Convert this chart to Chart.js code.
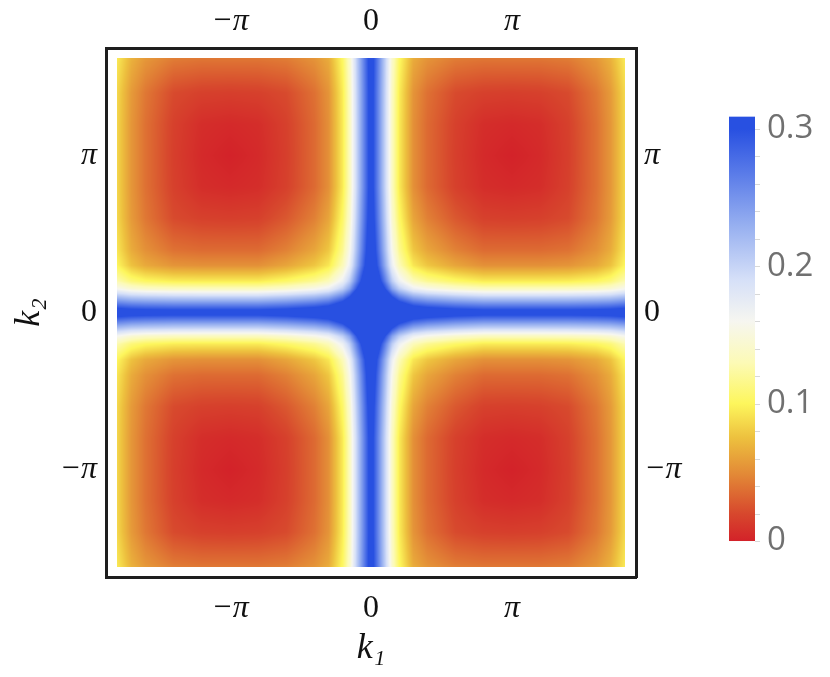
<!DOCTYPE html>
<html lang="en">
<head>
  <meta charset="UTF-8">
  <title>Density plot k1 k2</title>
  <script src="https://cdn.jsdelivr.net/npm/chart.js"></script>
  <style>
    body { margin: 0; background: #fff; }
    #plot { display: block; }
  </style>
</head>
<body>
  <canvas id="plot" width="830" height="677"></canvas>

  <script>
    // axis ticks (k in units of pi)
    const tickValues = [-1, 0, 1];
    const tickLabels = ['−π', '0', 'π'];

    // plotted domain, in units of pi
    const k1Extent = [-1.805, 1.805];
    const k2Extent = [-1.62, 1.62];

    // |k| sample nodes (units of pi), same for k1 and k2; the plot is mirror symmetric
    const kNodes = [0, 0.05, 0.1, 0.15, 0.2, 0.3, 0.4, 0.6, 0.8, 1.0, 1.2, 1.4, 1.6, 1.7, 1.8];

    // values: rows = |k2| nodes, columns = |k1| nodes
    const valueGrid = [
      [.570, .517, .466, .412, .381, .350, .339, .327, .320, .320, .320, .320, .322, .325, .331],
      [.517, .463, .411, .355, .323, .291, .279, .267, .260, .260, .260, .260, .263, .266, .274],
      [.466, .411, .357, .300, .266, .233, .220, .208, .200, .200, .200, .201, .204, .207, .217],
      [.412, .355, .300, .241, .206, .170, .157, .143, .135, .135, .135, .136, .140, .146, .160],
      [.381, .323, .266, .206, .169, .132, .118, .104, .095, .095, .095, .096, .102, .110, .128],
      [.350, .291, .233, .170, .132, .093, .078, .062, .052, .052, .052, .054, .064, .076, .100],
      [.339, .279, .220, .157, .118, .078, .062, .045, .035, .035, .035, .038, .052, .065, .092],
      [.327, .267, .208, .143, .104, .062, .045, .027, .016, .015, .016, .021, .041, .057, .086],
      [.320, .260, .200, .135, .095, .052, .035, .016, .006, .004, .006, .016, .038, .055, .085],
      [.320, .260, .200, .135, .095, .052, .035, .015, .004, .000, .004, .015, .038, .055, .085],
      [.320, .260, .200, .135, .095, .052, .035, .016, .006, .004, .006, .016, .038, .055, .085],
      [.320, .260, .201, .136, .096, .054, .038, .021, .016, .015, .016, .021, .041, .057, .086],
      [.322, .263, .204, .140, .102, .064, .052, .041, .038, .038, .038, .041, .054, .067, .093],
      [.325, .266, .207, .146, .110, .076, .065, .057, .055, .055, .055, .057, .067, .078, .101],
      [.331, .274, .217, .160, .128, .100, .092, .086, .085, .085, .085, .086, .093, .101, .120]
    ];

    // colour bar
    const barTicks = [0, 0.1, 0.2, 0.3];
    const barTickLabels = ['0', '0.1', '0.2', '0.3'];
    const barMax = 0.309;

    // colour map (value -> rgb)
    const colorStops = [
      [0.000, [211, 34, 41]],
      [0.020, [215, 72, 45]],
      [0.050, [227, 140, 55]],
      [0.075, [237, 192, 62]],
      [0.100, [253, 246, 92]],
      [0.130, [252, 250, 182]],
      [0.160, [246, 246, 240]],
      [0.190, [214, 224, 248]],
      [0.230, [150, 175, 240]],
      [0.270, [86, 120, 232]],
      [0.300, [40, 80, 225]]
    ];

    function colorAt(v) {
      if (v <= colorStops[0][0]) return colorStops[0][1];
      for (let i = 1; i < colorStops.length; i++) {
        if (v <= colorStops[i][0]) {
          const [v0, c0] = colorStops[i - 1], [v1, c1] = colorStops[i];
          const t = (v - v0) / (v1 - v0);
          return [0, 1, 2].map(n => c0[n] + (c1[n] - c0[n]) * t);
        }
      }
      return colorStops[colorStops.length - 1][1];
    }

    function nodeIndex(a) {
      let i = 0;
      while (i < kNodes.length - 2 && a > kNodes[i + 1]) i++;
      const t = Math.min(1, Math.max(0, (a - kNodes[i]) / (kNodes[i + 1] - kNodes[i])));
      return [i, t];
    }

    function valueAt(k1, k2) {
      const [i, ti] = nodeIndex(Math.abs(k1));
      const [j, tj] = nodeIndex(Math.abs(k2));
      const a = valueGrid[j][i] * (1 - ti) + valueGrid[j][i + 1] * ti;
      const b = valueGrid[j + 1][i] * (1 - ti) + valueGrid[j + 1][i + 1] * ti;
      return a * (1 - tj) + b * tj;
    }

    // density image drawn in data coordinates through the x / y scales
    const heatmap = {
      id: 'heatmap',
      beforeDatasetsDraw(chart) {
        const { ctx, scales: { x, y } } = chart;
        const left = Math.round(x.getPixelForValue(k1Extent[0]));
        const right = Math.round(x.getPixelForValue(k1Extent[1]));
        const top = Math.round(y.getPixelForValue(k2Extent[1]));
        const bottom = Math.round(y.getPixelForValue(k2Extent[0]));
        const w = right - left, h = bottom - top;
        const img = ctx.createImageData(w, h);
        for (let r = 0; r < h; r++) {
          const k2 = y.getValueForPixel(top + r + 0.5);
          for (let c = 0; c < w; c++) {
            const k1 = x.getValueForPixel(left + c + 0.5);
            const col = colorAt(valueAt(k1, k2));
            const p = (r * w + c) * 4;
            img.data[p] = col[0];
            img.data[p + 1] = col[1];
            img.data[p + 2] = col[2];
            img.data[p + 3] = 255;
          }
        }
        ctx.putImageData(img, left, top);
      }
    };

    // colour bar, placed with the hidden 'cb' scale
    const colorBar = {
      id: 'colorBar',
      afterDraw(chart) {
        const { ctx } = chart;
        const cb = chart.scales.cb;
        const x0 = 729, x1 = 755;
        const yTop = cb.getPixelForValue(barMax), yBot = cb.getPixelForValue(0);
        const grad = ctx.createLinearGradient(0, yBot, 0, yTop);
        colorStops.forEach(([v, c]) => {
          grad.addColorStop(Math.min(1, v / barMax), `rgb(${c.map(Math.round).join(',')})`);
        });
        ctx.save();
        ctx.fillStyle = grad;
        ctx.fillRect(x0, yTop, x1 - x0, yBot - yTop);
        ctx.strokeStyle = 'rgba(190,190,190,0.6)';
        ctx.lineWidth = 1;
        for (let v = 0; v <= 0.3001; v += 0.02) {
          const py = Math.round(cb.getPixelForValue(v)) + 0.5;
          ctx.beginPath();
          ctx.moveTo(x1, py);
          ctx.lineTo(x1 + 5, py);
          ctx.stroke();
        }
        ctx.fillStyle = '#707070';
        ctx.font = '33px "Open Sans", sans-serif';
        ctx.textAlign = 'left';
        ctx.textBaseline = 'middle';
        barTicks.forEach((v, i) => {
          ctx.fillText(barTickLabels[i], 767, cb.getPixelForValue(v));
        });
        ctx.restore();
      }
    };

    const tickFont = (c) => ({
      family: '"Liberation Serif", "DejaVu Serif", serif',
      size: 32,
      style: c.tick && c.tick.value !== 0 ? 'italic' : 'normal'
    });
    const setTicks = (s) => { s.ticks = tickValues.map(v => ({ value: v })); };
    const labelFor = (v) => tickLabels[tickValues.indexOf(v)];
    const border = { display: true, color: '#1e1e1e', width: 3 };
    const noGrid = { display: false, drawTicks: false };
    const titleFont = { family: '"Liberation Serif", "DejaVu Serif", serif', size: 36, style: 'italic' };

    new Chart(document.getElementById('plot'), {
      type: 'scatter',
      data: { datasets: [{ data: [], pointRadius: 0 }] },
      options: {
        responsive: false,
        animation: false,
        layout: { padding: 0 },
        plugins: { legend: { display: false }, tooltip: { enabled: false } },
        scales: {
          x: {
            type: 'linear', position: 'bottom', min: -1.88, max: 1.88,
            grid: noGrid, border: border,
            afterBuildTicks: setTicks,
            afterFit: (s) => { s.height = 100; },
            ticks: { callback: labelFor, font: tickFont, color: '#111', padding: 12, maxRotation: 0 },
            title: { display: true, text: 'k₁', font: titleFont, color: '#111', padding: { top: 0, bottom: 7 } }
          },
          x2: {
            type: 'linear', position: 'top', min: -1.88, max: 1.88,
            grid: noGrid, border: border,
            afterBuildTicks: setTicks,
            afterFit: (s) => { s.height = 48; },
            ticks: { callback: labelFor, font: tickFont, color: '#111', padding: 7, maxRotation: 0 }
          },
          y: {
            type: 'linear', position: 'left', min: -1.685, max: 1.685,
            grid: noGrid, border: border,
            afterBuildTicks: setTicks,
            afterFit: (s) => { s.width = 106; },
            ticks: { callback: labelFor, font: tickFont, color: '#111', padding: 9 },
            title: { display: true, text: 'k₂', font: titleFont, color: '#111', padding: { top: 8, bottom: 0 } }
          },
          y2: {
            type: 'linear', position: 'right', min: -1.685, max: 1.685,
            grid: noGrid, border: border,
            afterBuildTicks: setTicks,
            afterFit: (s) => { s.width = 194; },
            ticks: { callback: labelFor, font: tickFont, color: '#111', padding: 8 }
          },
          cb: {
            type: 'linear', position: 'right', display: false, min: -0.0262, max: 0.359
          }
        }
      },
      plugins: [heatmap, colorBar]
    });
  </script>
</body>
</html>
